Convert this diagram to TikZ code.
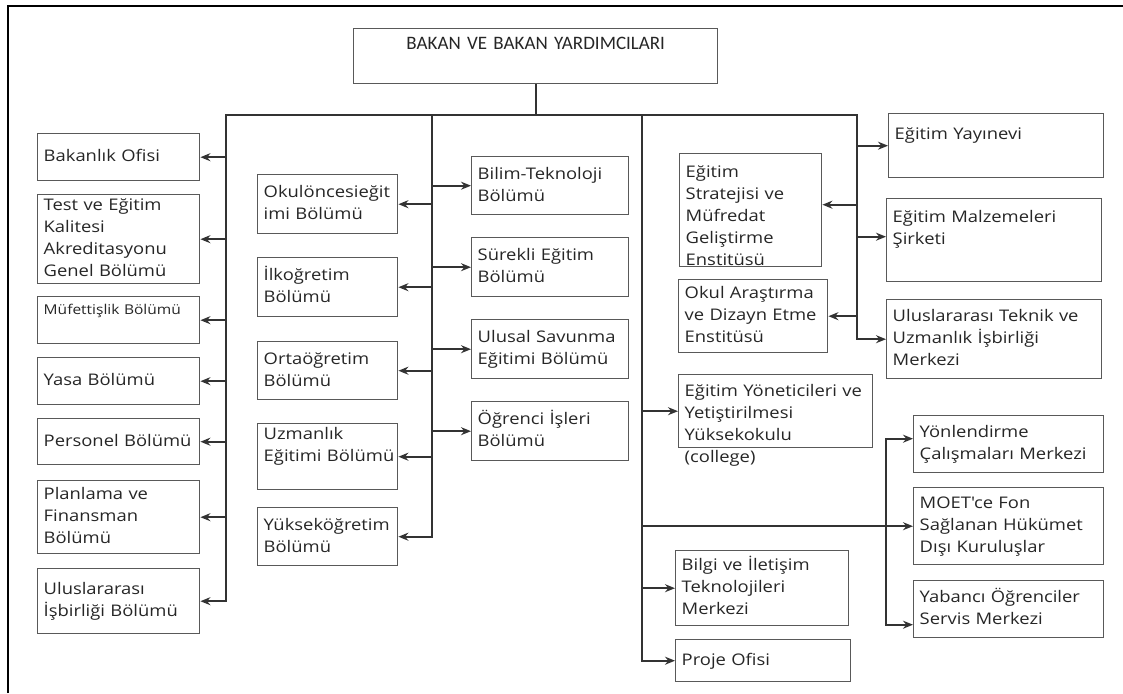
\documentclass[tikz,border=0pt]{standalone}
\usepackage{fontspec}
\usetikzlibrary{arrows.meta}
\newfontfamily\boxfont[FakeStretch=1.15]{Open Sans}
\newfontfamily\headfont{Carlito}
\colorlet{box edge}{black!65}
\colorlet{box text}{black!85}
\colorlet{link}{black!80}
\tikzset{box/.style={draw=box edge, line width=1.4pt, anchor=north west,
    inner xsep=6pt, inner ysep=0pt, align=left, text=box text,
    font=\boxfont\fontsize{16}{22}\selectfont,
    execute at begin node=\strut, execute at end node=\strut},
  small/.style={font=\boxfont\fontsize{13.5}{18}\selectfont},
  bus/.style={draw=link, line width=1.6pt, line cap=rect},
  arr/.style={bus, -{Stealth[length=10pt,width=8pt]}},
  frame/.style={draw=black, line width=1.6pt}}

\begin{document}
\begin{tikzpicture}[x=1pt, y=-1pt]
    \useasboundingbox (0,0) rectangle (1123,693);
    \draw[frame] (8,693) -- (8,6) -- (1123,6);
    \node[box, align=center, text width=352pt, minimum height=55pt,
      font=\headfont\fontsize{19}{22}\selectfont] (bakan) at (353,28)
      {BAKAN VE BAKAN YARDIMCILARI\\\mbox{}};
    % left column
    \node[box, text width=150pt, minimum height=47pt] (bakanlik) at (37,133) {Bakanlık Ofisi};
    \node[box, text width=150pt, minimum height=89pt] (test) at (37,194)
      {Test ve Eğitim\\Kalitesi\\Akreditasyonu\\Genel Bölümü};
    \node[box, small, text width=150pt, minimum height=47pt] (mufettis) at (37,296) {Müfettişlik Bölümü\\\mbox{}};
    \node[box, text width=150pt, minimum height=47pt] (yasa) at (37,357) {Yasa Bölümü};
    \node[box, text width=150pt, minimum height=46pt] (personel) at (37,418) {Personel Bölümü};
    \node[box, text width=150pt, minimum height=73pt] (planlama) at (37,480) {Planlama ve\\Finansman\\Bölümü};
    \node[box, text width=150pt, minimum height=65pt] (isbirligi) at (37,568) {Uluslararası\\İşbirliği Bölümü};
    % middle columns
    \node[box, text width=128pt, minimum height=59pt] (okuloncesi) at (257,174) {Okulöncesieğit\\imi Bölümü};
    \node[box, text width=128pt, minimum height=59pt] (ilkogretim) at (257,257) {İlkoğretim\\Bölümü};
    \node[box, text width=128pt, minimum height=58pt] (ortaogretim) at (257,341) {Ortaöğretim\\Bölümü};
    \node[box, text width=128pt, minimum height=59pt] (uzmanlik) at (257,423) {Uzmanlık\\Eğitimi~Bölümü\\\mbox{}};
    \node[box, text width=128pt, minimum height=58pt] (yuksek) at (257,507) {Yükseköğretim\\Bölümü};
    \node[box, text width=145pt, minimum height=58pt] (bilim) at (471,156) {Bilim-Teknoloji\\Bölümü};
    \node[box, text width=145pt, minimum height=59pt] (surekli) at (471,237) {Sürekli Eğitim\\Bölümü};
    \node[box, text width=145pt, minimum height=59pt] (savunma) at (471,319) {Ulusal Savunma\\Eğitimi Bölümü};
    \node[box, text width=145pt, minimum height=59pt] (ogrenci) at (471,401) {Öğrenci İşleri\\Bölümü};
    % right columns
    \node[box, text width=130pt, minimum height=113pt, text height=22pt, text depth=88pt] (strateji) at (679,153)
      {Eğitim\\Stratejisi ve\\Müfredat\\Geliştirme\\Enstitüsü};
    \node[box, text width=137pt, minimum height=73pt] (arastirma) at (678,279) {Okul Araştırma\\ve Dizayn Etme\\Enstitüsü};
    \node[box, text width=182pt, minimum height=73pt, text depth=44pt] (yonetici) at (678,374)
      {Eğitim Yöneticileri~ve\\Yetiştirilmesi\\Yüksekokulu\\(college)};
    \node[box, text width=161pt, minimum height=75pt] (bilgi) at (675,550) {Bilgi ve İletişim\\Teknolojileri\\Merkezi};
    \node[box, text width=163pt, minimum height=42pt] (proje) at (675,639) {Proje Ofisi};
    \node[box, text width=203pt, minimum height=64pt] (yayinevi) at (888,113) {Eğitim Yayınevi\\\mbox{}};
    \node[box, text width=203pt, minimum height=83pt] (malzeme) at (886,198) {Eğitim Malzemeleri\\Şirketi\\\mbox{}};
    \node[box, text width=203pt, minimum height=79pt] (teknik) at (886,299)
      {Uluslararası Teknik ve\\Uzmanlık İşbirliği\\Merkezi};
    \node[box, text width=178pt, minimum height=57pt] (yonlendirme) at (913,415) {Yönlendirme\\Çalışmaları Merkezi};
    \node[box, text width=178pt, minimum height=77pt] (moet) at (913,487) {MOET'ce Fon\\Sağlanan Hükümet\\Dışı Kuruluşlar};
    \node[box, text width=178pt, minimum height=57pt] (yabanci) at (913,580) {Yabancı Öğrenciler\\Servis Merkezi};
    % connectors
    \coordinate (lbus) at (226,115);
    \coordinate (mbus) at (432,115);
    \coordinate (rbus) at (642,115);
    \coordinate (ebus) at (857,115);
    \coordinate (rjoin) at (886,525);
    \draw[bus] (bakan.south) -- (bakan.south |- lbus);
    \draw[bus] (lbus) -- (ebus);
    \draw[arr] (lbus) |- (isbirligi.east);
    \foreach \n in {bakanlik,test,mufettis,yasa,personel,planlama}
      \draw[arr] (lbus |- \n.east) -- (\n.east);
    \draw[arr] (mbus) |- (yuksek.east);
    \foreach \n in {okuloncesi,ilkogretim,ortaogretim,uzmanlik}
      \draw[arr] (mbus |- \n.east) -- (\n.east);
    \foreach \n in {bilim,surekli,savunma,ogrenci}
      \draw[arr] (mbus |- \n.west) -- (\n.west);
    \draw[arr] (rbus) |- (proje.west);
    \foreach \n in {yonetici,bilgi,moet}
      \draw[arr] (rbus |- \n.west) -- (\n.west);
    \draw[arr] (rjoin) |- ([yshift=5.5pt]yonlendirme.west);
    \draw[arr] (rjoin) |- ([yshift=-15.5pt]yabanci.west);
    \draw[arr] (ebus) |- (teknik.west);
    \coordinate (sp) at ([yshift=5.5pt]strateji.east);
    \coordinate (mz) at ([yshift=3.5pt]malzeme.west);
    \draw[arr] (ebus |- yayinevi.west) -- (yayinevi.west);
    \draw[arr] (ebus |- sp) -- (sp);
    \draw[arr] (ebus |- mz) -- (mz);
    \draw[arr] (ebus |- arastirma.east) -- (arastirma.east);
\end{tikzpicture}
\end{document}
